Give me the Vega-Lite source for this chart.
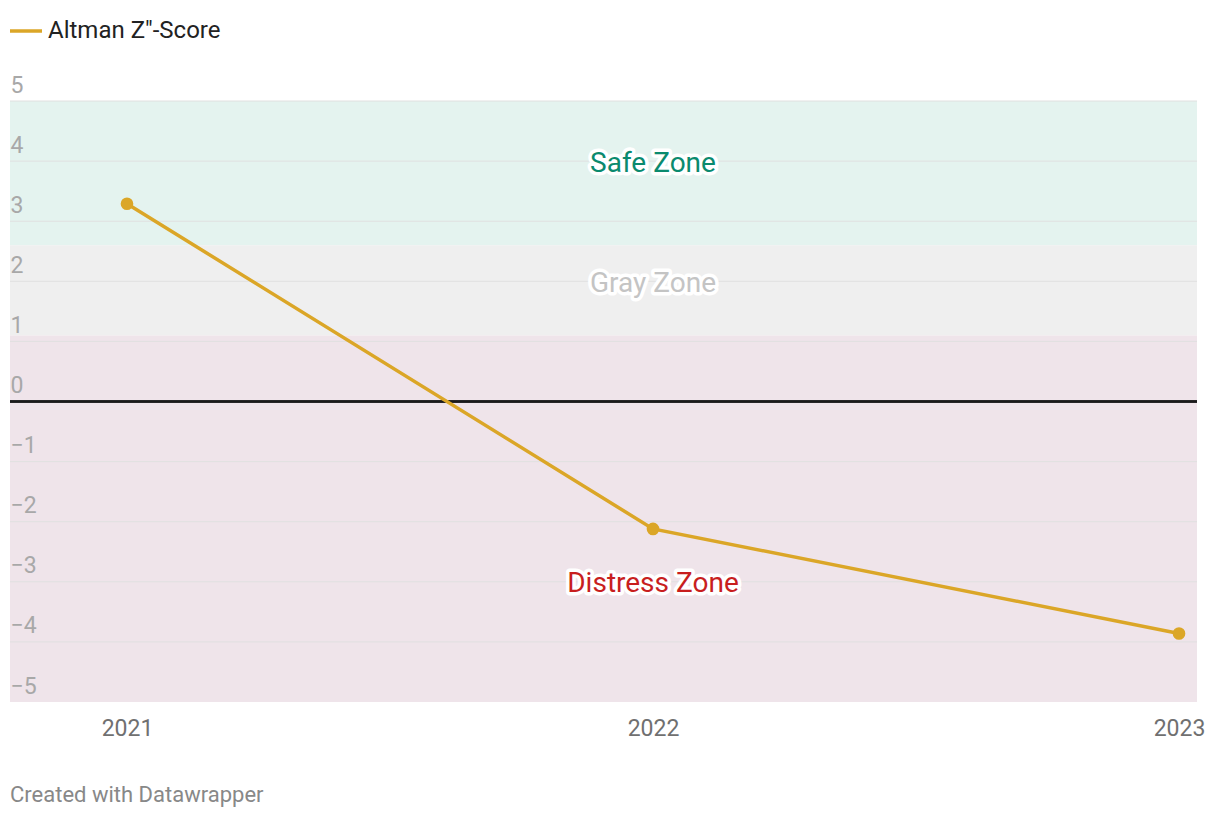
{
  "$schema": "https://vega.github.io/schema/vega-lite/v6.json",
  "width": 1187,
  "height": 601,
  "autosize": {"type": "none"},
  "padding": {"left": 10, "top": 101, "right": 23, "bottom": 116},
  "background": "white",
  "config": {
    "font": "Roboto",
    "view": {"stroke": null},
    "axisY": {"grid": false, "ticks": false, "tickSize": 0, "domain": false, "labelAlign": "left", "labelBaseline": "alphabetic", "labelPadding": 0, "labelOffset": -9, "labelFontSize": 23, "labelColor": "#a8a8a8", "labelFont": "Roboto", "title": null, "zindex": 1},
    "axisX": {"grid": false, "ticks": false, "tickSize": 0, "domain": false, "labelFlush": false, "labelPadding": 15, "labelFontSize": 23, "labelColor": "#707070", "labelFont": "Roboto", "title": null}
  },
  "title": {"text": "Created with Datawrapper", "orient": "bottom", "anchor": "start", "frame": "group", "fontSize": 22, "font": "Roboto", "fontWeight": "normal", "color": "#888888", "offset": 45},
  "datasets": {
    "zones": [
      {"zone": "Safe Zone", "lo": 2.6, "hi": 5, "labelValue": 4},
      {"zone": "Gray Zone", "lo": 1.1, "hi": 2.6, "labelValue": 2},
      {"zone": "Distress Zone", "lo": -5, "hi": 1.1, "labelValue": -3}
    ],
    "scores": [
      {"year": 2021, "score": 3.29, "series": "Altman Z\"-Score"},
      {"year": 2022, "score": -2.12, "series": "Altman Z\"-Score"},
      {"year": 2023, "score": -3.86, "series": "Altman Z\"-Score"}
    ],
    "grid": [{"v": -4}, {"v": -3}, {"v": -2}, {"v": -1}, {"v": 1}, {"v": 2}, {"v": 3}, {"v": 4}, {"v": 5}]
  },
  "resolve": {"scale": {"color": "independent"}},
  "layer": [
    {
      "data": {"name": "zones"},
      "mark": {"type": "rect"},
      "encoding": {
        "y": {"field": "lo", "type": "quantitative", "scale": {"domain": [-5, 5], "nice": false}, "title": null, "axis": {"values": [-5, -4, -3, -2, -1, 0, 1, 2, 3, 4, 5], "format": "d", "zindex": 1}},
        "y2": {"field": "hi"},
        "color": {"field": "zone", "type": "nominal", "scale": {"domain": ["Safe Zone", "Gray Zone", "Distress Zone"], "range": ["#e4f3ef", "#efefef", "#efe4ea"]}, "legend": null}
      }
    },
    {
      "data": {"name": "grid"},
      "mark": {"type": "rule", "color": "#e0e0e0", "strokeWidth": 1},
      "encoding": {"y": {"field": "v", "type": "quantitative", "title": null}}
    },
    {
      "data": {"name": "grid"},
      "mark": {"type": "rule", "color": "#1a1a1a", "strokeWidth": 1.5},
      "encoding": {"y": {"datum": 0}}
    },
    {
      "data": {"name": "zones"},
      "mark": {"type": "text", "font": "Roboto", "fontSize": 28, "stroke": "white", "strokeWidth": 7, "strokeJoin": "round", "fill": "white", "align": "center", "baseline": "middle", "dy": 2.5},
      "encoding": {
        "x": {"datum": 2022, "type": "quantitative"},
        "y": {"field": "labelValue", "type": "quantitative", "title": null},
        "text": {"field": "zone"}
      }
    },
    {
      "data": {"name": "zones"},
      "mark": {"type": "text", "font": "Roboto", "fontSize": 28, "align": "center", "baseline": "middle", "dy": 2.5},
      "encoding": {
        "x": {"datum": 2022, "type": "quantitative"},
        "y": {"field": "labelValue", "type": "quantitative", "title": null},
        "text": {"field": "zone"},
        "color": {"field": "zone", "type": "nominal", "scale": {"domain": ["Safe Zone", "Gray Zone", "Distress Zone"], "range": ["#0a8a6e", "#c4c4c4", "#c81e1e"]}, "legend": null}
      }
    },
    {
      "data": {"name": "scores"},
      "mark": {"type": "line", "strokeWidth": 3.5, "point": {"filled": true, "size": 160, "opacity": 1}},
      "encoding": {
        "x": {"field": "year", "type": "quantitative", "scale": {"domain": [2020.7776, 2023.0342], "nice": false, "zero": false}, "title": null, "axis": {"values": [2021, 2022, 2023], "format": "d"}},
        "y": {"field": "score", "type": "quantitative", "title": null},
        "color": {"field": "series", "type": "nominal", "scale": {"range": ["#dba627"]}, "legend": {"orient": "none", "legendX": -2, "legendY": -88, "title": null, "symbolType": "stroke", "symbolStrokeWidth": 3.5, "symbolSize": 1024, "labelFontSize": 24, "labelColor": "#222222", "labelFont": "Roboto", "labelOffset": 4, "labelLimit": 500}}
      }
    }
  ]
}
